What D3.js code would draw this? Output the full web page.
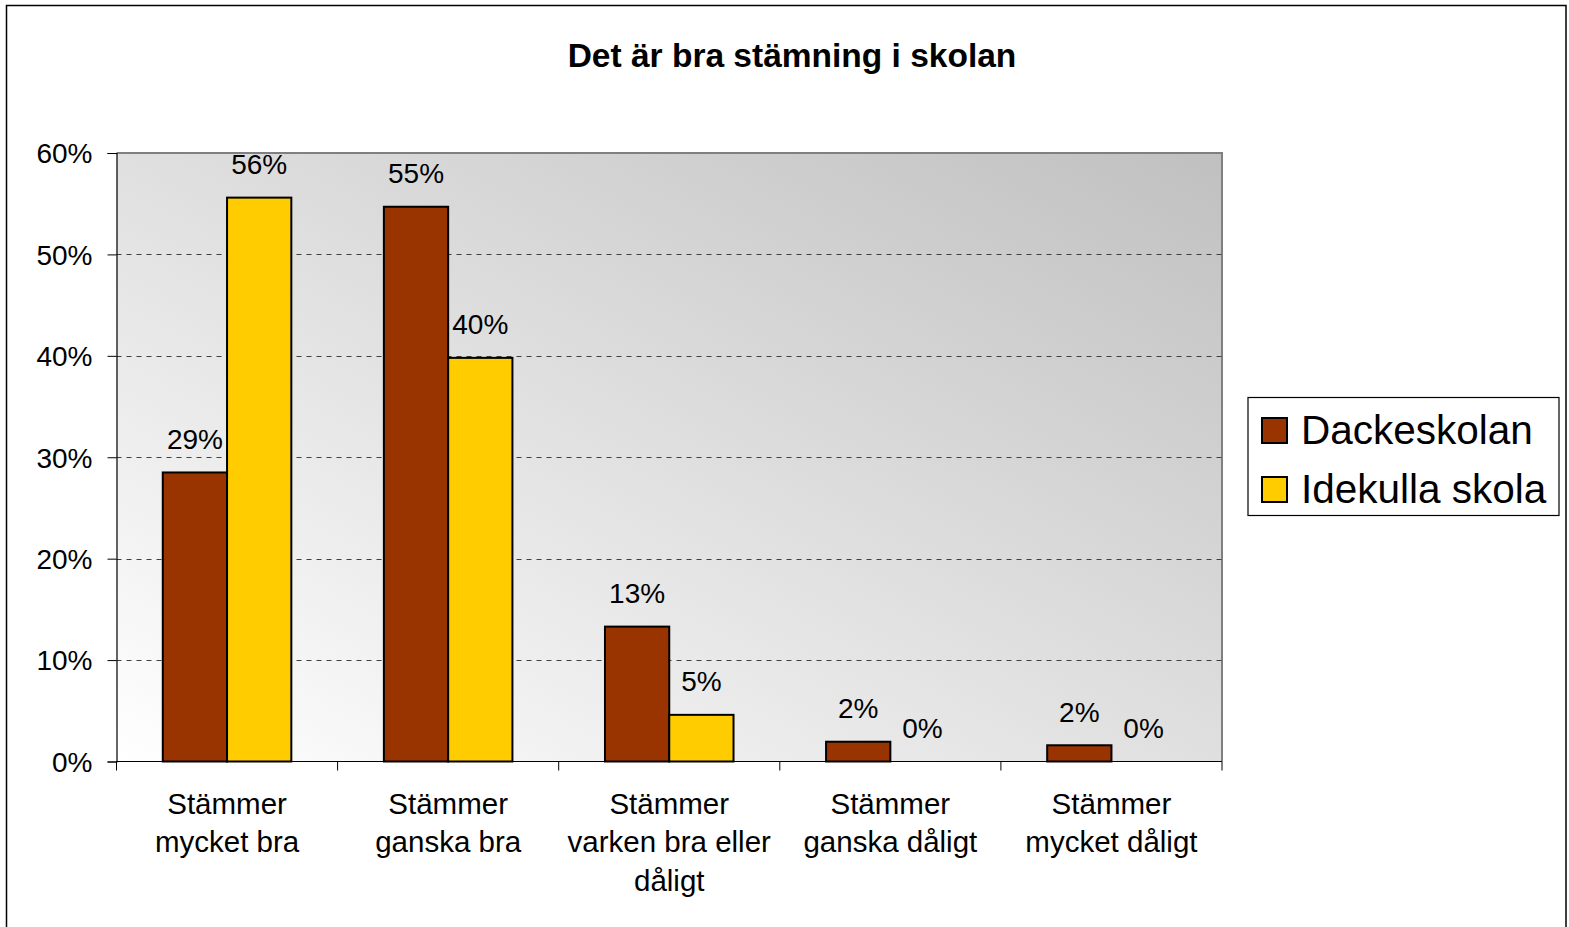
<!DOCTYPE html>
<html><head><meta charset="utf-8">
<script src="https://cdn.jsdelivr.net/npm/d3@7"></script>
<style>body{margin:0;background:#fff}svg{display:block}text{font-family:"Liberation Sans",Arial,sans-serif;fill:#000}</style>
</head><body>
<script>
const title = "Det är bra stämning i skolan";
const categories = [
  ["Stämmer","mycket bra"],
  ["Stämmer","ganska bra"],
  ["Stämmer","varken bra eller","dåligt"],
  ["Stämmer","ganska dåligt"],
  ["Stämmer","mycket dåligt"]
];
const seriesNames = ["Dackeskolan","Idekulla skola"];
const dackeskolan = [28.5, 54.7, 13.3, 1.95, 1.6];
const idekulla = [55.6, 39.8, 4.6, 0, 0];
const dackeLabels = ["29%","55%","13%","2%","2%"];
const idekullaLabels = ["56%","40%","5%","0%","0%"];
const yTicks = [0,10,20,30,40,50,60];
const colors = ["#993300","#FFCC00"];

const W = 1569, H = 927;
const svg = d3.select("body").append("svg").attr("width",W).attr("height",H);
const defs = svg.append("defs");
const grad = defs.append("linearGradient").attr("id","bg")
  .attr("x1","0").attr("y1","1").attr("x2","1").attr("y2","0");
grad.append("stop").attr("offset","0").attr("stop-color","#ffffff");
grad.append("stop").attr("offset","1").attr("stop-color","#c0c0c0");

// outer border
svg.append("rect").attr("x",6.5).attr("y",5.5).attr("width",1559.5).attr("height",930)
  .attr("fill","#fff").attr("stroke","#000").attr("stroke-width",1.5);

const L = 116.5, R = 1222, T = 153, B = 761.5;
const x = d3.scaleBand().domain(d3.range(categories.length)).range([L,R]);
const y = d3.scaleLinear().domain([0,60]).range([B,T]);
const inner = d3.scaleBand().domain([0,1]).range([0,x.bandwidth()]).paddingInner(0).paddingOuter(0.72);

svg.append("rect").attr("x",L).attr("y",T).attr("width",R-L).attr("height",B-T).attr("fill","url(#bg)");
svg.append("path").attr("d",`M${L},${T}H${R}V${B}`).attr("fill","none").attr("stroke","#808080").attr("stroke-width",2);

// grid
svg.append("g").selectAll("line").data(yTicks.filter(d=>d>0&&d<60)).join("line")
  .attr("x1",L).attr("x2",R).attr("y1",d=>Math.round(y(d))+0.5).attr("y2",d=>Math.round(y(d))+0.5)
  .attr("stroke","#404040").attr("stroke-width",1).attr("stroke-dasharray","5,5");

// y axis
const yAxis = svg.append("g").attr("transform",`translate(${L},0)`)
  .call(d3.axisLeft(y).tickValues(yTicks).tickFormat(d=>d+"%").tickSize(9).tickPadding(15));
yAxis.select(".domain").attr("stroke","#000").attr("stroke-width",1.2);
yAxis.selectAll(".tick line").attr("stroke","#000");
yAxis.selectAll("text").attr("font-size",28).attr("font-family","Liberation Sans, Arial, sans-serif").attr("dy","0.35em");

// x axis
svg.append("line").attr("x1",L).attr("x2",R).attr("y1",B).attr("y2",B).attr("stroke","#000").attr("stroke-width",1.2);
svg.append("g").selectAll("line").data(d3.range(categories.length+1)).join("line")
  .attr("x1",d=>L+d*x.step()).attr("x2",d=>L+d*x.step()).attr("y1",B).attr("y2",B+9).attr("stroke","#000");

// bars
const data = [dackeskolan, idekulla];
const labs = [dackeLabels, idekullaLabels];
data.forEach((vals,s)=>{
  const g = svg.append("g");
  g.selectAll("rect").data(vals.map((v,i)=>({v,i}))).join("rect")
    .filter(d=>d.v>0)
    .attr("x",d=>x(d.i)+inner(s)).attr("width",inner.bandwidth())
    .attr("y",d=>y(d.v)).attr("height",d=>y(0)-y(d.v))
    .attr("fill",colors[s]).attr("stroke","#000").attr("stroke-width",2);
  g.selectAll("text").data(vals.map((v,i)=>({v,i}))).join("text")
    .attr("x",d=>x(d.i)+inner(s)+inner.bandwidth()/2)
    .attr("y",d=>y(d.v)-23.5)
    .attr("text-anchor","middle").attr("font-size",28)
    .text(d=>labs[s][d.i]);
});

// category labels
const cl = svg.append("g");
categories.forEach((lines,i)=>{
  const t = cl.append("text").attr("text-anchor","middle").attr("font-size",29.5)
    .attr("x",x(i)+x.bandwidth()/2).attr("y",813.5);
  lines.forEach((ln,k)=>t.append("tspan").attr("x",x(i)+x.bandwidth()/2).attr("y",813.5+k*38.5).text(ln));
});

// title
svg.append("text").attr("x",792).attr("y",67).attr("text-anchor","middle")
  .attr("font-size",33.5).attr("font-weight","bold").text(title);

// legend
const lg = svg.append("g");
lg.append("rect").attr("x",1248).attr("y",397.5).attr("width",311).attr("height",118)
  .attr("fill","#fff").attr("stroke","#000").attr("stroke-width",1.2);
seriesNames.forEach((n,i)=>{
  lg.append("rect").attr("x",1262).attr("y",418+i*59).attr("width",25).attr("height",25)
    .attr("fill",colors[i]).attr("stroke","#000").attr("stroke-width",2);
  lg.append("text").attr("x",1301).attr("y",444+i*59).attr("font-size",40.5).text(n);
});
</script>
</body></html>
